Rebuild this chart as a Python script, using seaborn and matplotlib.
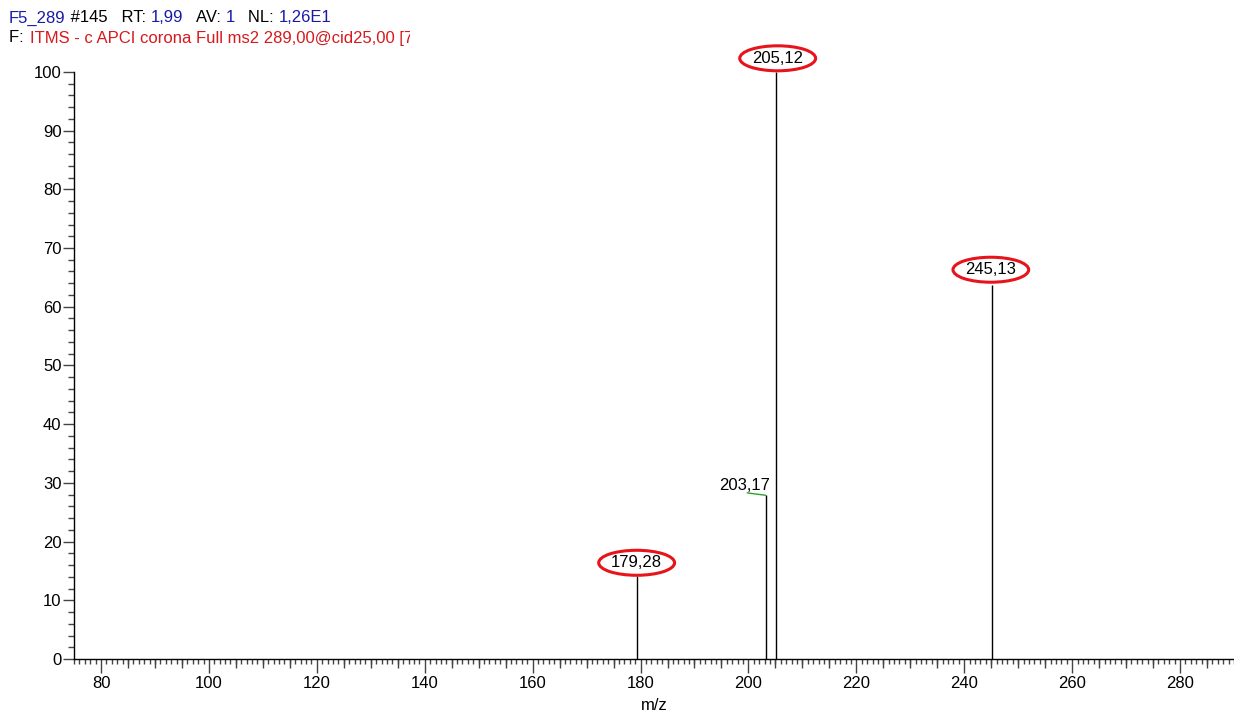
import matplotlib
matplotlib.use("Agg")
import matplotlib.pyplot as plt
from matplotlib.ticker import MultipleLocator
import seaborn as sns
import pandas as pd

# data
mz = [179.28, 203.17, 205.12, 245.13]
intensity = [14.1, 27.9, 100.0, 63.7]
labels = ["179,28", "203,17", "205,12", "245,13"]
circled = [True, False, True, True]
x_major = [80, 100, 120, 140, 160, 180, 200, 220, 240, 260, 280]

sns.set_theme(style="ticks")
plt.rcParams['font.family'] = ['Liberation Sans', 'DejaVu Sans']

fig = plt.figure(figsize=(12.34, 7.11), dpi=100)
ax = fig.add_axes([0.060, 0.073, 0.940, 0.826])

df = pd.DataFrame({"mz": mz, "intensity": intensity})
ax.vlines(df["mz"], 0, df["intensity"], color="black", lw=1.0)

ax.set_xlim(75, 290)
ax.set_ylim(0, 100)
for s in ["top", "right"]:
    ax.spines[s].set_visible(False)
for s in ["left", "bottom"]:
    ax.spines[s].set_linewidth(1.0)
    ax.spines[s].set_color("black")

fs = 12
tc = "#444444"
ax.set_xticks(x_major)
ax.xaxis.set_minor_locator(MultipleLocator(1))
ax.yaxis.set_major_locator(MultipleLocator(10))
ax.yaxis.set_minor_locator(MultipleLocator(2))
ax.tick_params(axis="x", which="major", labelsize=fs, length=10, width=1, color=tc, pad=2,
               direction="out", labelcolor="black")
ax.tick_params(axis="y", which="major", labelsize=fs, length=8, width=1, color=tc, pad=1,
               direction="out", labelcolor="black")
ax.tick_params(axis="x", which="minor", length=3.5, width=1, color=tc, direction="out")
ax.tick_params(axis="y", which="minor", length=4.5, width=1, color=tc, direction="out")

# medium ticks every 5
sec = ax.secondary_xaxis("bottom")
sec.set_xticks([v for v in range(80, 290, 5) if v % 20 != 0])
sec.tick_params(axis="x", length=6.5, width=1, color=tc, labelbottom=False, direction="out")
sec.spines["bottom"].set_visible(False)

ax.set_xlabel("m/z", fontsize=fs, labelpad=5, color="black")
ax.set_ylabel("")

offsets = {"179,28": (0, 2.3), "203,17": (-3.8, 1.6), "205,12": (0.3, 2.3), "245,13": (-0.2, 2.6)}
for x, y, lab, c in zip(mz, intensity, labels, circled):
    dx, dy = offsets[lab]
    if c:
        ax.text(x + dx, y + dy, lab, ha="center", va="center", fontsize=fs, clip_on=False, color="black",
                bbox=dict(boxstyle="ellipse,pad=0.08", fc="none", ec="#e8141b", lw=2.2))
    else:
        ax.text(x + dx, y + dy, lab, ha="center", va="center", fontsize=fs, clip_on=False, color="black")
        ax.plot([x - 3.4, x], [y + 0.4, y], color="#2ca02c", lw=1, clip_on=False)

# header
blue = "#1a1aa6"
red = "#d7191c"
y1 = 1 - 18 / 711
y2 = 1 - 38 / 711
parts1 = [("F5_289", blue), (" #145   RT: ", "black"), ("1,99", blue), ("   AV: ", "black"),
          ("1", blue), ("   NL: ", "black"), ("1,26E1", blue)]
renderer = fig.canvas.get_renderer()
xpos = 9
for txt, col in parts1:
    t = fig.text(xpos / 1234, y1, txt, color=col, fontsize=fs, va="center", ha="left")
    xpos += t.get_window_extent(renderer).width
t1 = fig.text(9 / 1234, y2, "F: ", color="black", fontsize=fs, va="center", ha="left")
w = t1.get_window_extent(renderer).width
t2 = fig.text((11 + w) / 1234, y2, "ITMS - c APCI corona Full ms2 289,00@cid25,00 [75,00-300,00]",
              color=red, fontsize=fs, va="center", ha="left")
clip = matplotlib.patches.Rectangle((0, 0), 410 / 1234, 1, transform=fig.transFigure)
t2.set_clip_path(clip)

fig.savefig("out.png", dpi=100)
